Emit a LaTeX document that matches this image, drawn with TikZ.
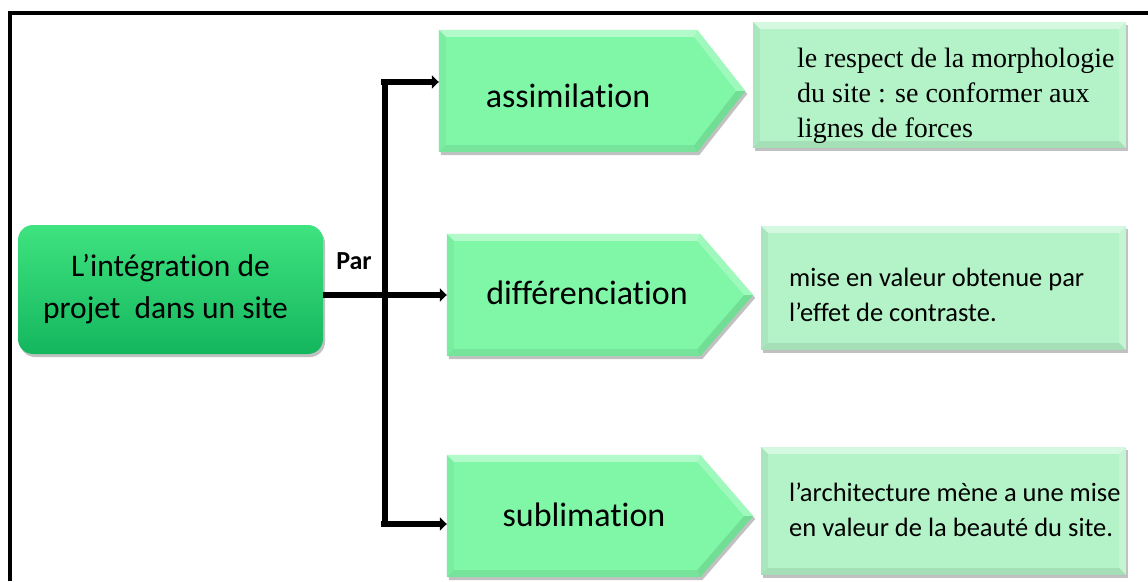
\documentclass[tikz,border=0pt]{standalone}
\usepackage{fontspec}
\setmainfont{Carlito}[Ligatures=NoCommon]
\newfontfamily\seriffont{Liberation Serif}
\usetikzlibrary{shadows, arrows.meta, calc, positioning}
\definecolor{mgreen}{HTML}{00B050}
\definecolor{mgreenlt}{HTML}{3FE37F}
\definecolor{pgreen}{HTML}{80F7A7}
\definecolor{bgreen}{HTML}{B4F3C8}
\tikzset{
  % ombra comune
  ombra/.style={drop shadow={shadow xshift=2pt, shadow yshift=-3pt, opacity=.35, fill=black!70}},
  % riquadro di partenza
  mainbox/.style={rounded corners=15pt, minimum width=305pt, minimum height=129pt,
    top color=mgreenlt, middle color=mgreen, bottom color=mgreen!92!white, ombra,
    align=center, font=\fontsize{31.5}{42}\selectfont},
  parlbl/.style={font=\bfseries\fontsize{26}{30}\selectfont, inner sep=0pt},
  % corpo delle frecce verdi (la punta si disegna a parte)
  pentbody/.style={minimum width=253pt, minimum height=122pt, inner sep=0pt},
  penttxt/.style={font=\fontsize{34}{40}\selectfont, inner sep=0pt},
  % riquadri di descrizione
  descbox/.style={fill=bgreen, ombra, inner sep=0pt},
  desctxt/.style={anchor=west, align=left, inner sep=0pt, font=\fontsize{26.5}{35}\selectfont},
  % collegamenti
  bus/.style={line width=6pt, black},
  busarr/.style={bus, -{Triangle[length=7pt, width=13pt]}},
}
% freccia pentagonale con smussi: #1 nodo, #2 profondita' della punta
\newcommand{\pentagono}[2]{%
  \coordinate (#1-t) at ($(#1.east)+(#2,0)$);
  \fill[pgreen, ombra] (#1.north west) -- (#1.north east) -- (#1-t) -- (#1.south east) -- (#1.south west) -- cycle;
  \coordinate (#1-a) at ($(#1.north west)+(7,7)$);
  \coordinate (#1-b) at ($(#1.north east)+(-3,7)$);
  \coordinate (#1-c) at ($(#1-t)+(-9,0)$);
  \coordinate (#1-d) at ($(#1.south east)+(-3,-7)$);
  \coordinate (#1-e) at ($(#1.south west)+(7,-7)$);
  \fill[white, opacity=.4] (#1.north west) -- (#1.north east) -- (#1-b) -- (#1-a) -- cycle;
  \fill[white, opacity=.25] (#1.north east) -- (#1-t) -- (#1-c) -- (#1-b) -- cycle;
  \fill[black, opacity=.1] (#1-t) -- (#1.south east) -- (#1-d) -- (#1-c) -- cycle;
  \fill[black, opacity=.07] (#1.south east) -- (#1.south west) -- (#1-e) -- (#1-d) -- cycle;
  \fill[black, opacity=.04] (#1.south west) -- (#1.north west) -- (#1-a) -- (#1-e) -- cycle;
}
% smussi dei riquadri di descrizione
\newcommand{\smusso}[1]{%
  \fill[white, opacity=.45] (#1.north west) -- (#1.north east) -- ($(#1.north east)+(-7,7)$) -- ($(#1.north west)+(7,7)$) -- cycle;
  \fill[white, opacity=.2] (#1.north east) -- (#1.south east) -- ($(#1.south east)+(-7,-7)$) -- ($(#1.north east)+(-7,7)$) -- cycle;
  \fill[black, opacity=.08] (#1.south east) -- (#1.south west) -- ($(#1.south west)+(7,-7)$) -- ($(#1.south east)+(-7,-7)$) -- cycle;
  \fill[black, opacity=.05] (#1.south west) -- (#1.north west) -- ($(#1.north west)+(7,7)$) -- ($(#1.south west)+(7,-7)$) -- cycle;
}

\begin{document}
\begin{tikzpicture}[x=1pt, y=-1pt]
  \useasboundingbox (0,0) rectangle (1148,581);
  % cornice
  \draw[line width=3.5pt] (1148,13) -- (10,13) -- (10,581);
  % riquadro di partenza
  \node[mainbox] (main) at (170.5,289.5) {L’intégration de\\projet~~dans un site\hspace*{10pt}};
  \node[parlbl] (par) at (354,261) {Par};
  % frecce verdi
  \node[pentbody, minimum width=258pt] (asm) at (568,91) {};
  \node[pentbody] (dif) at (573.5,295) {};
  \node[pentbody] (sub) at (573.5,516) {};
  \pentagono{asm}{48}
  \pentagono{dif}{53}
  \pentagono{sub}{53}
  \node[penttxt] (tasm) at (568,96) {assimilation};
  \node[penttxt] (tdif) at (587,293) {différenciation};
  \node[penttxt] (tsub) at (584,515) {sublimation};
  % riquadri di descrizione
  \node[descbox, minimum width=373pt, minimum height=126pt] (rasm) at (939.5,85) {};
  \node[descbox, minimum width=365pt, minimum height=124pt] (rdif) at (943.5,288) {};
  \node[descbox, minimum width=365pt, minimum height=128pt] (rsub) at (943.5,511) {};
  \foreach \r in {rasm,rdif,rsub} \smusso{\r};
  \node[desctxt, font=\seriffont\fontsize{28}{35}\selectfont] (trasm) at (797,96) {le respect de la morphologie\\du site : se conformer aux\\lignes de forces};
  \node[desctxt] (trdif) at (789,295) {mise en valeur obtenue par\\l’effet de contraste.};
  \node[desctxt] (trsub) at (789,510) {l’architecture mène a une mise\\en valeur de la beauté du site.};
  % collegamenti
  \coordinate (jtop) at (385,82);
  \coordinate (jmid) at (385,295);
  \coordinate (jbot) at (385,524);
  \draw[bus] (jtop) -- (jbot);
  \draw[busarr] ([xshift=-4pt]jtop) -- (jtop -| asm.west);
  \draw[busarr] (main.east |- jmid) -- (jmid -| dif.west);
  \draw[busarr] ([xshift=-4pt]jbot) -- (jbot -| sub.west);
\end{tikzpicture}
\end{document}
